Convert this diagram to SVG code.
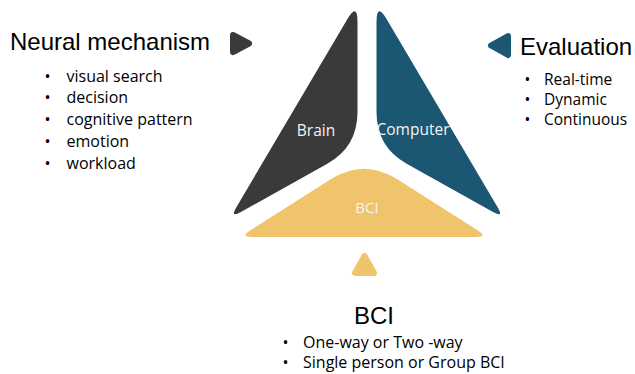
<svg xmlns="http://www.w3.org/2000/svg" width="635" height="374" viewBox="0 0 635 374">
<style>
.title{font-family:"Liberation Sans",Arial,sans-serif;font-size:24px;fill:#000}
.item{font-family:"Open Sans","Noto Sans",sans-serif;font-size:16px;fill:#000}
.lbl{font-family:"Open Sans","Noto Sans",sans-serif;font-size:15.5px;fill:#f4f4f4}
.dark{fill:#3a3a3a}
.teal{fill:#1b5672}
.gold{fill:#efc46b}
.ptr{stroke-width:6;stroke-linejoin:round}
</style>
<rect width="635" height="374" fill="#ffffff"/>
<g id="brain">
<path class="dark" d="M357.5,22 L357.5,112 Q357.5,147 326.9,164 L240.5,212.2 Q230,218 236.1,207.7 L347.3,19.2 Q357.5,2 357.5,22 Z"/>
<text class="lbl" x="316" y="135.5" text-anchor="middle">Brain</text>
</g>
<g id="computer">
<path class="teal" d="M376.5,22 L376.5,112 Q376.5,147 407.1,164 L493.5,212.2 Q504,218 497.9,207.7 L386.7,19.2 Q376.5,2 376.5,22 Z"/>
<text class="lbl" x="376.5" y="135">Computer</text>
</g>
<g id="bci">
<path class="gold" d="M330.3,179.5 Q364,158 397.7,179.5 L477.9,230.6 Q488,237 476,237 L252,237 Q240,237 250.1,230.6 Z"/>
<text class="lbl" x="367" y="213.3" text-anchor="middle" style="font-size:15px">BCI</text>
</g>
<g id="neural-mechanism">
<polygon class="dark ptr" stroke="#3a3a3a" points="233,35 249,43.5 233,52"/>
<text class="title" x="10" y="50">Neural mechanism</text>
<g class="item">
<text x="44.5" y="81.5">•</text><text x="66.5" y="81.5">visual search</text>
<text x="44.5" y="103.2">•</text><text x="66.5" y="103.2">decision</text>
<text x="44.5" y="125">•</text><text x="66.5" y="125">cognitive pattern</text>
<text x="44.5" y="146.8">•</text><text x="66.5" y="146.8">emotion</text>
<text x="44.5" y="168.5">•</text><text x="66.5" y="168.5">workload</text>
</g>
</g>
<g id="evaluation">
<polygon class="teal ptr" stroke="#1b5672" points="508,36 491,45.5 508,55"/>
<text class="title" x="520" y="55">Evaluation</text>
<g class="item" style="font-size:15.5px">
<text x="524.5" y="85">•</text><text x="544" y="85">Real-time</text>
<text x="524.5" y="105">•</text><text x="544" y="105">Dynamic</text>
<text x="524.5" y="125">•</text><text x="544" y="125">Continuous</text>
</g>
</g>
<g id="bci-info">
<polygon class="gold ptr" stroke="#efc46b" points="364.5,256 355,273 374,273"/>
<text class="title" x="374" y="324" text-anchor="middle">BCI</text>
<g class="item">
<text x="282.5" y="348">•</text><text x="303" y="348">One-way or Two -way</text>
<text x="282.5" y="368">•</text><text x="303" y="368">Single person or Group BCI</text>
</g>
</g>
</svg>
